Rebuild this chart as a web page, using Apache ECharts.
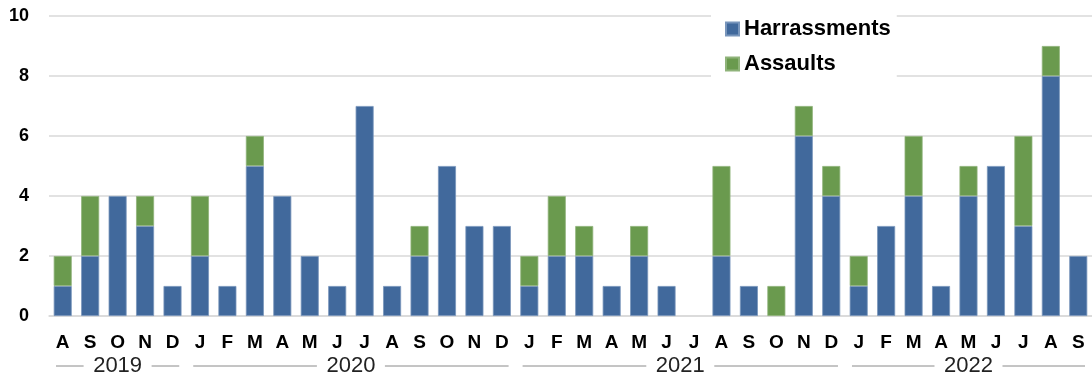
<!DOCTYPE html>
<html>
<head>
<meta charset="utf-8">
<script src="https://cdn.jsdelivr.net/npm/echarts@6/dist/echarts.min.js"></script>
<style>
  html, body { margin: 0; padding: 0; background: #fff; }
  #chart { width: 1092px; height: 379px; }
</style>
</head>
<body>
<div id="chart"></div>
<script>
// Monthly incidents, Aug 2019 – Sep 2022
const months = ['A','S','O','N','D',
  'J','F','M','A','M','J','J','A','S','O','N','D',
  'J','F','M','A','M','J','J','A','S','O','N','D',
  'J','F','M','A','M','J','J','A','S'];
const harassments = [1,2,4,3,1, 2,1,5,4,2,1,7,1,2,5,3,3, 1,2,2,1,2,1,0,2,1,0,6,4, 1,3,4,1,4,5,3,8,2];
const assaults    = [1,2,0,1,0, 2,0,1,0,0,0,0,0,1,0,0,0, 1,2,1,0,1,0,0,3,0,1,1,1, 1,0,2,0,1,0,3,1,0];

// Year groups along the month axis (first and last month index)
const years      = ['2019', '2020', '2021', '2022'];
const yearStarts = [0, 5, 17, 29];
const yearEnds   = [4, 16, 28, 37];

const FONT = '"Liberation Sans", Arial, Helvetica, sans-serif';
const BLUE = '#41699c';
const GREEN = '#6a9a4e';
const GRID = '#d9d9d9';

const chart = echarts.init(document.getElementById('chart'), null, { renderer: 'canvas' });

const blank = v => (v === 0 ? null : v);

chart.setOption({
  animation: false,
  backgroundColor: '#fff',
  grid: { left: 49, top: 16, width: 1048, height: 300 },
  legend: {
    data: ['Harrassments', 'Assaults'],
    orient: 'vertical',
    left: 711,
    top: 6,
    padding: [12, 6, 12, 14],
    itemGap: 13,
    itemWidth: 13,
    itemHeight: 13,
    icon: 'rect',
    backgroundColor: '#fff',
    textStyle: { fontFamily: FONT, fontSize: 22, fontWeight: 'bold', color: '#000', lineHeight: 22 }
  },
  xAxis: {
    type: 'category',
    data: months,
    axisLine: { lineStyle: { color: GRID, width: 1.5 } },
    axisTick: { show: false },
    axisLabel: { interval: 0, margin: 17, fontFamily: FONT, fontSize: 19, fontWeight: 'bold', color: '#000' }
  },
  yAxis: {
    type: 'value',
    min: 0, max: 10, interval: 2,
    axisLine: { show: false },
    axisTick: { show: false },
    splitLine: { lineStyle: { color: GRID, width: 1.5 } },
    axisLabel: { margin: 20, fontFamily: FONT, fontSize: 18, fontWeight: 'bold', color: '#000' }
  },
  series: [
    {
      name: 'Harrassments',
      type: 'bar',
      stack: 'total',
      barWidth: 18,
      data: harassments.map(blank),
      itemStyle: { color: BLUE, borderColor: '#7895bb', borderWidth: 0.8 }
    },
    {
      name: 'Assaults',
      type: 'bar',
      stack: 'total',
      barWidth: 18,
      data: assaults.map(blank),
      itemStyle: { color: GREEN, borderColor: '#8fb37a', borderWidth: 0.8 }
    },
    {
      // year brackets under the month letters
      name: 'years',
      type: 'custom',
      silent: true,
      clip: false,
      z: 10,
      encode: { x: [0, 1], y: 2 },
      data: years.map((y, i) => [yearStarts[i], yearEnds[i], 0]),
      renderItem: function (params, api) {
        const i = params.dataIndex;
        const band = api.size([1, 0])[0];
        const a = api.coord([api.value(0), 0]);
        const b = api.coord([api.value(1), 0]);
        const left = a[0] - band / 2, right = b[0] + band / 2;
        const y = a[1] + 50;
        const x0 = left + 7, x1 = right - 7;
        const cx = (left + right) / 2;
        const half = 34;
        const line = { stroke: '#8a8a8a', lineWidth: 1 };
        return {
          type: 'group',
          children: [
            { type: 'line', shape: { x1: x0, y1: y, x2: cx - half, y2: y }, style: line },
            { type: 'line', shape: { x1: cx + half, y1: y, x2: x1, y2: y }, style: line },
            { type: 'text', style: { x: cx, y: y, text: years[i], align: 'center', verticalAlign: 'middle',
                fontFamily: FONT, fontSize: 22, fill: '#222' } }
          ]
        };
      }
    }
  ]
});
</script>
</body>
</html>
